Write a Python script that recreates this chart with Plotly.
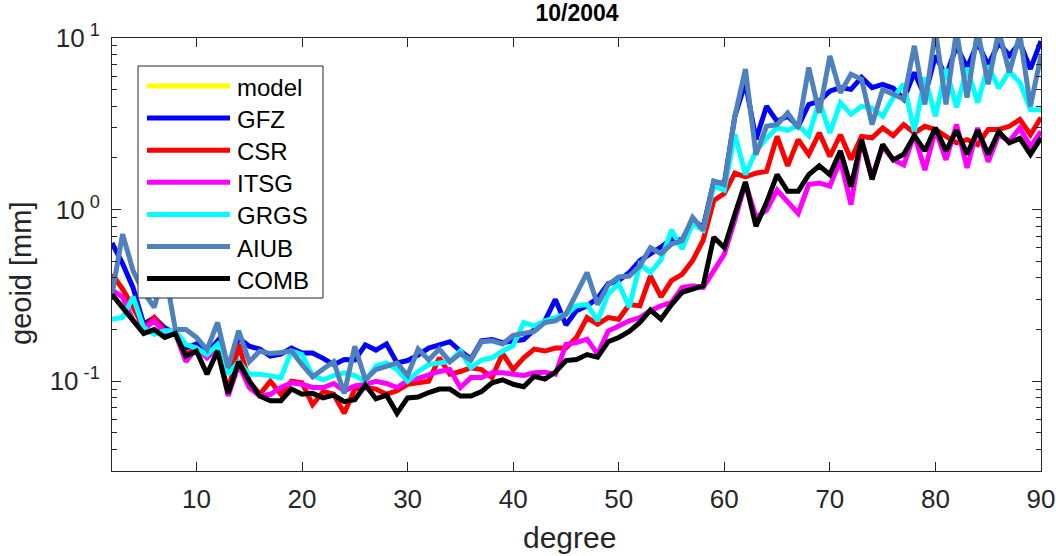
import plotly.graph_objects as go
import numpy as np

degrees = list(range(2, 91))

model = [None] * len(degrees)

gfz = [0.64, 0.485, 0.35, 0.216, 0.234, 0.205, 0.189, 0.156, 0.165, 0.146,
       0.172, 0.115, 0.179, 0.16, 0.154, 0.14, 0.144, 0.156, 0.146, 0.146,
       0.136, 0.125, 0.134, 0.133, 0.163, 0.152, 0.165, 0.128, 0.132, 0.142,
       0.156, 0.163, 0.17, 0.15, 0.135, 0.172, 0.175, 0.168, 0.172, 0.175,
       0.2, 0.225, 0.3, 0.213, 0.258, 0.275, 0.305, 0.37, 0.386, 0.43,
       0.505, 0.553, 0.605, 0.678, 0.663, 0.867, 0.792, 1.45, 1.42, 3.5,
       5.5, 2.56, 4.0, 3.27, 3.5, 3.06, 4.1, 4.29, 4.9, 5.14,
       5.02, 5.9, 5.14, 5.37, 5.1, 4.4, 6.3, 4.6, 7.9, 6.0,
       9.0, 6.7, 9.4, 6.9, 9.4, 7.9, 9.4, 6.6, 9.6]

csr = [0.42, 0.345, 0.27, 0.205, 0.235, 0.197, 0.188, 0.143, 0.156, 0.14,
       0.156, 0.087, 0.164, 0.1, 0.084, 0.1, 0.084, 0.1, 0.098, 0.073,
       0.087, 0.084, 0.065, 0.09, 0.092, 0.09, 0.084, 0.088, 0.096, 0.098,
       0.1, 0.137, 0.11, 0.114, 0.12, 0.117, 0.105, 0.145, 0.117, 0.137,
       0.154, 0.15, 0.156, 0.156, 0.18, 0.235, 0.215, 0.235, 0.23, 0.28,
       0.275, 0.41, 0.31, 0.386, 0.42, 0.505, 0.663, 1.13, 1.24, 1.63,
       1.55, 1.63, 1.67, 2.67, 1.8, 2.56, 2.09, 2.8, 2.04, 2.73,
       1.96, 2.67, 2.62, 2.99, 2.7, 3.13, 2.8, 3.06, 2.93, 2.67,
       2.45, 2.56, 2.39, 2.93, 2.93, 3.06, 3.35, 2.73, 3.44]

itsg = [0.34, 0.31, 0.225, 0.2, 0.225, 0.19, 0.19, 0.13, 0.156, 0.137,
        0.156, 0.082, 0.125, 0.092, 0.082, 0.084, 0.092, 0.098, 0.096, 0.092,
        0.092, 0.097, 0.088, 0.094, 0.096, 0.1, 0.097, 0.092, 0.101, 0.104,
        0.109, 0.114, 0.117, 0.092, 0.105, 0.105, 0.112, 0.112, 0.11, 0.108,
        0.112, 0.113, 0.11, 0.164, 0.168, 0.176, 0.144, 0.196, 0.21, 0.225,
        0.235, 0.258, 0.275, 0.288, 0.352, 0.36, 0.352, 0.44, 0.55, 0.87,
        1.43, 0.9, 0.99, 1.3, 1.11, 0.95, 1.4, 1.43, 1.37, 1.95,
        1.07, 2.56, 1.55, 2.33, 1.95, 1.82, 2.74, 1.7, 2.93, 1.95,
        3.13, 1.75, 2.99, 1.9, 2.74, 2.5, 2.99, 2.33, 2.86]

grgs = [0.23, 0.235, 0.31, 0.205, 0.188, 0.197, 0.197, 0.164, 0.156, 0.143,
        0.164, 0.11, 0.13, 0.11, 0.11, 0.107, 0.105, 0.15, 0.143, 0.108,
        0.102, 0.108, 0.112, 0.108, 0.1, 0.123, 0.128, 0.117, 0.1, 0.114,
        0.125, 0.128, 0.13, 0.15, 0.12, 0.133, 0.137, 0.15, 0.161, 0.22,
        0.21, 0.225, 0.235, 0.246, 0.275, 0.28, 0.225, 0.323, 0.37, 0.27,
        0.48, 0.43, 0.51, 0.76, 0.59, 0.83, 0.76, 1.37, 1.3, 2.75,
        1.6, 2.2, 2.6, 3.0, 2.9, 3.1, 2.7, 4.3, 2.8, 4.2,
        3.6, 4.0, 3.9, 3.5, 4.5, 5.4, 2.85, 5.9, 3.5, 6.6,
        3.95, 6.7, 4.2, 6.9, 5.1, 6.4, 5.5, 3.83, 3.8]

aiub = [0.32, 0.72, 0.44, 0.33, 0.27, 0.45, 0.2, 0.2, 0.18, 0.153,
        0.22, 0.12, 0.197, 0.13, 0.15, 0.145, 0.147, 0.15, 0.125, 0.106,
        0.118, 0.13, 0.085, 0.16, 0.102, 0.117, 0.122, 0.128, 0.108, 0.154,
        0.133, 0.154, 0.13, 0.145, 0.133, 0.17, 0.172, 0.165, 0.185, 0.19,
        0.195, 0.22, 0.225, 0.246, 0.323, 0.43, 0.28, 0.365, 0.405, 0.41,
        0.47, 0.6, 0.553, 0.63, 0.66, 0.9, 0.76, 1.47, 1.4, 3.5,
        6.6, 2.09, 3.06, 3.13, 3.66, 2.99, 6.73, 3.66, 7.87, 4.8,
        6.15, 5.75, 3.13, 5.0, 4.7, 4.4, 9.0, 4.1, 11.0, 4.1,
        11.0, 4.5, 11.0, 5.37, 11.0, 6.3, 10.5, 4.0, 7.9]

comb = [0.32, 0.27, 0.23, 0.19, 0.2, 0.18, 0.19, 0.14, 0.15, 0.11,
        0.15, 0.085, 0.13, 0.1, 0.082, 0.077, 0.077, 0.09, 0.084, 0.085,
        0.08, 0.083, 0.076, 0.078, 0.095, 0.079, 0.083, 0.065, 0.08, 0.081,
        0.086, 0.09, 0.09, 0.082, 0.082, 0.087, 0.098, 0.102, 0.096, 0.093,
        0.107, 0.103, 0.113, 0.132, 0.134, 0.143, 0.138, 0.17, 0.18, 0.195,
        0.22, 0.26, 0.23, 0.28, 0.33, 0.345, 0.36, 0.69, 0.6, 0.94,
        1.45, 0.8, 1.1, 1.6, 1.28, 1.28, 1.6, 1.8, 1.6, 2.2,
        1.36, 2.55, 1.5, 2.4, 1.95, 2.1, 2.7, 2.2, 3.0, 2.2,
        2.9, 2.1, 2.9, 2.1, 2.85, 2.45, 2.6, 2.1, 2.62]

names = ["model", "GFZ", "CSR", "ITSG", "GRGS", "AIUB", "COMB"]
series = [model, gfz, csr, itsg, grgs, aiub, comb]
colors = ["#FFFF00", "#0000FF", "#FF0000", "#FF00FF", "#00FFFF", "#4F81BD", "#000000"]

x_ticks = [10, 20, 30, 40, 50, 60, 70, 80, 90]
y_ticks = [0.1, 1, 10]
y_ticktext = ["10<sup> -1</sup>", "10<sup> 0</sup>", "10<sup> 1</sup>"]

FONT = "Liberation Sans, Arial, sans-serif"
AX = "#262626"

W, H = 1056, 556
ML, MR, MT, MB = 112, 15, 38, 85
PW, PH = W - ML - MR, H - MT - MB


def px(xp):
    return (xp - ML) / PW


def py(yp):
    return (H - MB - yp) / PH


fig = go.Figure()
for nm, ys, c in zip(names, series, colors):
    fig.add_trace(go.Scatter(
        x=degrees, y=ys, name=nm, mode="lines",
        line=dict(color=c, width=5), showlegend=False,
    ))

minor_vals = []
for dec in [0.01, 0.1, 1]:
    for m in range(2, 10):
        v = round(m * dec, 4)
        if 0.03 <= v <= 10:
            minor_vals.append(v)

# legend box drawn in the MATLAB style (box, long line samples, labels)
shapes = [dict(type="rect", xref="paper", yref="paper",
               x0=px(138), x1=px(323), y0=py(298), y1=py(66),
               line=dict(color=AX, width=1), fillcolor="white", layer="above")]
annotations = []
for i, (nm, c) in enumerate(zip(names, colors)):
    yc = 86 + 32.1 * i
    shapes.append(dict(type="line", xref="paper", yref="paper",
                       x0=px(147), x1=px(230), y0=py(yc), y1=py(yc),
                       line=dict(color=c, width=5), layer="above"))
    annotations.append(dict(text=nm, xref="paper", yref="paper",
                            x=px(235), y=py(yc + 1.5), xanchor="left", yanchor="middle",
                            showarrow=False,
                            font=dict(family=FONT, size=24, color="#000000")))

annotations.append(dict(text="geoid [mm]", xref="paper", yref="paper",
                        x=px(21), y=py(274), xanchor="center", yanchor="middle",
                        textangle=-90, showarrow=False,
                        font=dict(family=FONT, size=29, color=AX)))
annotations.append(dict(text="degree", xref="paper", yref="paper",
                        x=px(569), y=py(537), xanchor="center", yanchor="middle",
                        showarrow=False,
                        font=dict(family=FONT, size=30, color=AX)))

fig.update_layout(
    width=W, height=H,
    margin=dict(l=ML, r=MR, t=MT, b=MB),
    paper_bgcolor="white", plot_bgcolor="white",
    font=dict(family=FONT, size=26, color=AX),
    title=dict(text="<b>10/2004</b>", x=577 / W, xanchor="center",
               y=1 - 12.5 / H, yanchor="middle",
               font=dict(family=FONT, size=23, color="#000000")),
    showlegend=False,
    shapes=shapes,
    annotations=annotations,
)

fig.update_xaxes(
    range=[2, 90], tickmode="array", tickvals=x_ticks,
    ticks="inside", ticklen=9, tickcolor=AX, tickwidth=1,
    showline=True, linecolor=AX, linewidth=1, mirror="ticks",
    showgrid=False, zeroline=False, automargin=False,
    ticklabelstandoff=5, ticklabeloverflow="allow",
    tickfont=dict(family=FONT, size=26, color=AX),
)

fig.update_yaxes(
    type="log", range=[np.log10(0.03), 1],
    tickmode="array", tickvals=y_ticks, ticktext=y_ticktext,
    ticks="inside", ticklen=9, tickcolor=AX, tickwidth=1,
    minor=dict(tickmode="array", tickvals=minor_vals, ticks="inside", ticklen=5,
               tickcolor=AX, showgrid=False),
    showline=True, linecolor=AX, linewidth=1, mirror="ticks",
    showgrid=False, zeroline=False, automargin=False,
    ticklabelstandoff=6, ticklabeloverflow="allow",
    tickfont=dict(family=FONT, size=26, color=AX),
)

# remove the default 8px page margin so the figure fills the window exactly
fig.write_html("out.html", config={"displayModeBar": False},
               post_script="document.body.style.margin='0';")
